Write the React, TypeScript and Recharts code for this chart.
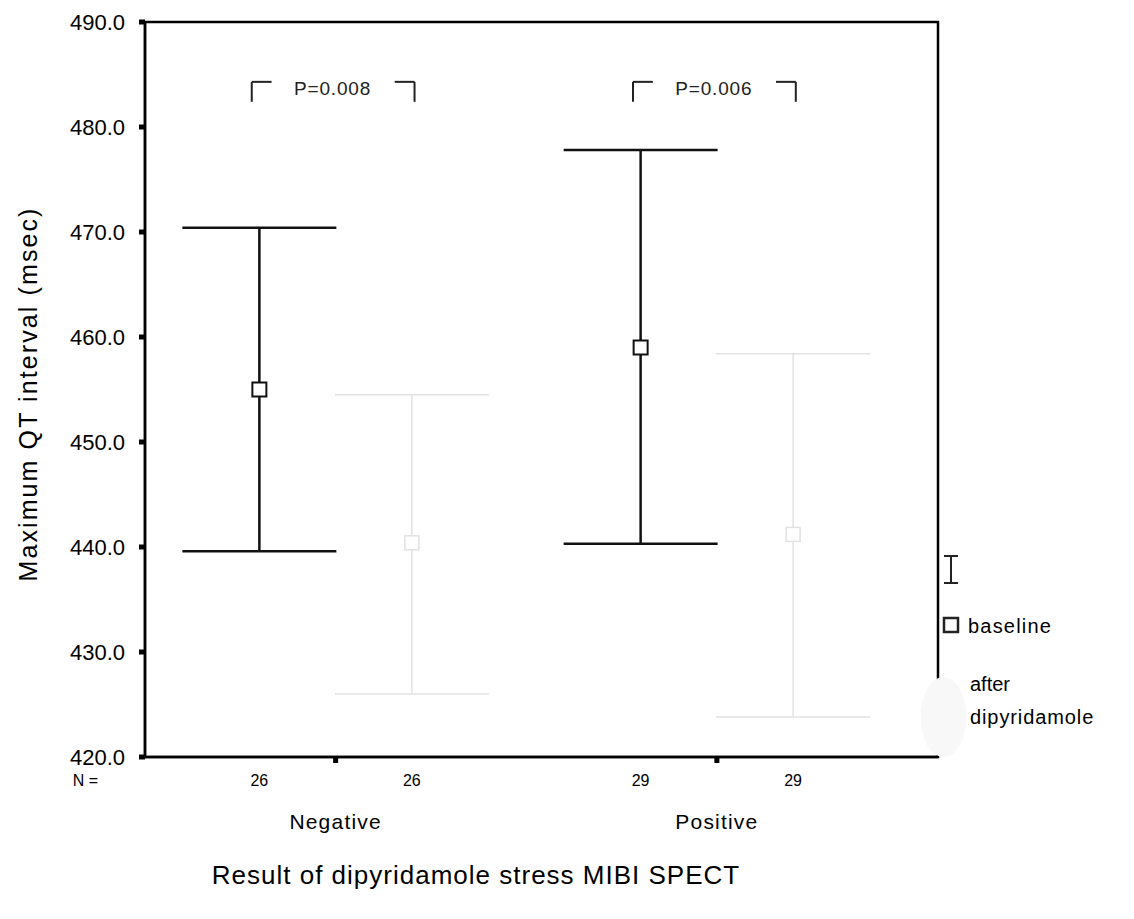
import React from 'react';
import {
  ScatterChart,
  Scatter,
  XAxis,
  YAxis,
  ErrorBar,
  ReferenceArea,
  ReferenceLine,
  ReferenceDot,
} from 'recharts';

// groups on the x axis and the two measurements inside each group
const groups = ['Negative', 'Positive'];
const groupCenters = [1, 2];
const nCounts = [26, 26, 29, 29];

// baseline: mean with 95% CI
const baselineMean = [455.0, 459.0];
const baselineLower = [439.6, 440.3];
const baselineUpper = [470.4, 477.8];

// after dipyridamole: mean with 95% CI
const afterMean = [440.4, 441.2];
const afterLower = [426.0, 423.8];
const afterUpper = [454.5, 458.4];

const pLabels = ['P=0.008', 'P=0.006'];
const yTicks = [420, 430, 440, 450, 460, 470, 480, 490];

const FONT = '"Liberation Sans", Arial, sans-serif';
const OFFSET = 0.2;
const X_DOMAIN: [number, number] = [0.5, 2.58];
const Y_DOMAIN: [number, number] = [420, 490];
const AFTER_COLOR = '#e2e2e2';

const baselineData = groups.map((g, i) => ({
  group: g,
  x: groupCenters[i] - OFFSET,
  y: baselineMean[i],
  err: [baselineMean[i] - baselineLower[i], baselineUpper[i] - baselineMean[i]],
}));

const afterData = groups.map((g, i) => ({
  group: g,
  x: groupCenters[i] + OFFSET,
  y: afterMean[i],
  err: [afterMean[i] - afterLower[i], afterUpper[i] - afterMean[i]],
}));

const xPositions = groupCenters.flatMap((c) => [c - OFFSET, c + OFFSET]);

// bracket annotation above each group (data units)
const BR_TOP = 484.3;
const BR_BOTTOM = 482.4;
const BR_LEFT = -0.22;
const BR_RIGHT = 0.207;
const BR_ARM = 0.052;

const squareShape = (color: string, sw: number) => (props: any) => {
  const { cx, cy } = props;
  return (
    <rect x={cx - 7} y={cy - 7} width={14} height={14} fill="#fff" stroke={color} strokeWidth={sw} />
  );
};

// one axis draws the N counts, the group tick marks and the group names
const XTick = (props: any) => {
  const { x, y, payload } = props;
  const v = payload.value;
  const gi = groupCenters.indexOf(v);
  if (gi >= 0) {
    return (
      <g>
        <rect x={x - 2.5} y={y} width={5} height={6} fill="#000" />
        <text x={x} y={y + 72} textAnchor="middle" fontSize={21} letterSpacing={1.2} fill="#000">
          {groups[gi]}
        </text>
      </g>
    );
  }
  const idx = xPositions.indexOf(v);
  return (
    <text x={x} y={y + 29} textAnchor="middle" fontSize={16} fill="#000">
      {nCounts[idx]}
    </text>
  );
};

const LegendBox = () => (
  <svg width={214} height={220} style={{ position: 'absolute', left: 920, top: 545 }}>
    <line x1={24} x2={38} y1={11} y2={11} stroke="#222" strokeWidth={2} />
    <line x1={31} x2={31} y1={11} y2={38} stroke="#222" strokeWidth={2} />
    <line x1={24} x2={38} y1={38} y2={38} stroke="#222" strokeWidth={2} />
    <rect x={24} y={73} width={14} height={14} fill="#fff" stroke="#222" strokeWidth={2.5} />
    <text x={48} y={88} fontSize={20} letterSpacing={1.2} fontFamily={FONT}>baseline</text>
    <ellipse cx={23.5} cy={172} rx={23} ry={40} fill="#f8f8f8" />
    <text x={50} y={146} fontSize={20} fontFamily={FONT}>after</text>
    <text x={50} y={179} fontSize={20} letterSpacing={0.9} fontFamily={FONT}>dipyridamole</text>
  </svg>
);

const App: React.FC = () => {
  return (
    <div style={{ position: 'absolute', left: 0, top: 0, width: 1134, height: 919, background: '#fff', fontFamily: FONT }}>
      <ScatterChart
        width={1134}
        height={919}
        margin={{ top: 22, right: 196, bottom: 72, left: 0 }}
        style={{ fontFamily: FONT }}
      >
        <XAxis
          type="number"
          dataKey="x"
          domain={X_DOMAIN}
          allowDataOverflow
          ticks={[...xPositions, ...groupCenters]}
          interval={0}
          tick={<XTick />}
          tickLine={false}
          tickSize={0}
          tickMargin={0}
          axisLine={{ stroke: '#000', strokeWidth: 2.5 }}
          height={90}
          label={{
            content: () => (
              <g>
                <text x={98} y={786} textAnchor="end" fontSize={16} fill="#000">
                  N =
                </text>
                <text x={476} y={884} textAnchor="middle" fontSize={26} letterSpacing={1} fill="#000">
                  Result of dipyridamole stress MIBI SPECT
                </text>
              </g>
            ),
          }}
        />
        <YAxis
          type="number"
          dataKey="y"
          domain={Y_DOMAIN}
          allowDataOverflow
          ticks={yTicks}
          interval={0}
          width={145}
          tickFormatter={(v: number) => v.toFixed(1)}
          tick={{ fill: '#000', fontSize: 22 }}
          tickSize={6}
          tickMargin={14}
          tickLine={{ stroke: '#000', strokeWidth: 5 }}
          axisLine={{ stroke: '#000', strokeWidth: 2.5 }}
          label={{
            content: () => (
              <text
                x={28}
                y={394}
                transform="rotate(-90, 28, 394)"
                textAnchor="middle"
                dominantBaseline="central"
                fontSize={25}
                letterSpacing={2.1}
                fill="#000"
              >
                Maximum QT interval (msec)
              </text>
            ),
          }}
        />
        <ReferenceArea
          x1={X_DOMAIN[0]}
          x2={X_DOMAIN[1]}
          y1={Y_DOMAIN[0]}
          y2={Y_DOMAIN[1]}
          fill="none"
          stroke="#000"
          strokeWidth={2.5}
          ifOverflow="visible"
        />
        {groupCenters.map((c, i) => (
          <React.Fragment key={groups[i]}>
            <ReferenceLine
              segment={[{ x: c + BR_LEFT, y: BR_BOTTOM }, { x: c + BR_LEFT, y: BR_TOP }]}
              stroke="#222"
              strokeWidth={2}
            />
            <ReferenceLine
              segment={[{ x: c + BR_LEFT, y: BR_TOP }, { x: c + BR_LEFT + BR_ARM, y: BR_TOP }]}
              stroke="#222"
              strokeWidth={2}
            />
            <ReferenceLine
              segment={[{ x: c + BR_RIGHT - BR_ARM, y: BR_TOP }, { x: c + BR_RIGHT, y: BR_TOP }]}
              stroke="#222"
              strokeWidth={2}
            />
            <ReferenceLine
              segment={[{ x: c + BR_RIGHT, y: BR_TOP }, { x: c + BR_RIGHT, y: BR_BOTTOM }]}
              stroke="#222"
              strokeWidth={2}
            />
            <ReferenceDot
              x={c - 0.008}
              y={(BR_TOP + BR_BOTTOM) / 2 + 0.3}
              r={0}
              stroke="none"
              fill="none"
              label={{ value: pLabels[i], position: 'center', fontSize: 19, letterSpacing: 0.8, fill: '#222' }}
            />
          </React.Fragment>
        ))}
        <Scatter
          name="after dipyridamole"
          data={afterData}
          shape={squareShape(AFTER_COLOR, 1.5)}
          isAnimationActive={false}
        >
          <ErrorBar dataKey="err" direction="y" width={77} stroke={AFTER_COLOR} strokeWidth={1.5} />
        </Scatter>
        <Scatter
          name="baseline"
          data={baselineData}
          shape={squareShape('#111', 2)}
          isAnimationActive={false}
        >
          <ErrorBar dataKey="err" direction="y" width={77} stroke="#111" strokeWidth={2.5} />
        </Scatter>
      </ScatterChart>
      <LegendBox />
    </div>
  );
};

export default App;
